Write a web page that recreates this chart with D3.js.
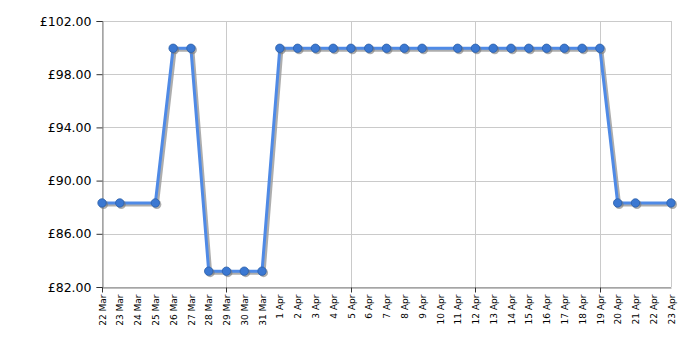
<!DOCTYPE html>
<html>
<head>
<meta charset="utf-8">
<script src="https://cdn.jsdelivr.net/npm/d3@7"></script>
<style>
  body { margin: 0; background: #fff; }
  text { font-family: "DejaVu Sans", Verdana, sans-serif; }
</style>
</head>
<body>
<div id="chart"></div>
<script>
// price history, one entry per recorded day
var dates = ["2024-03-22", "2024-03-23", "2024-03-25", "2024-03-26", "2024-03-27",
  "2024-03-28", "2024-03-29", "2024-03-30", "2024-03-31", "2024-04-01",
  "2024-04-02", "2024-04-03", "2024-04-04", "2024-04-05", "2024-04-06",
  "2024-04-07", "2024-04-08", "2024-04-09", "2024-04-11", "2024-04-12",
  "2024-04-13", "2024-04-14", "2024-04-15", "2024-04-16", "2024-04-17",
  "2024-04-18", "2024-04-19", "2024-04-20", "2024-04-21", "2024-04-23"];
var prices = [88.32, 88.32, 88.32, 99.95, 99.95,
  83.19, 83.19, 83.19, 83.19, 99.95,
  99.95, 99.95, 99.95, 99.95, 99.95,
  99.95, 99.95, 99.95, 99.95, 99.95,
  99.95, 99.95, 99.95, 99.95, 99.95,
  99.95, 99.95, 88.32, 88.32, 88.32];
var yTicks = [82, 86, 90, 94, 98, 102];
var xStart = "2024-03-22", xEnd = "2024-04-23";

var parse = d3.utcParse("%Y-%m-%d");
var points = dates.map((d, i) => ({date: parse(d), price: prices[i]}));

var width = 700, height = 350;
var margin = {top: 21, right: 29, bottom: 63, left: 102};

var svg = d3.select("#chart")
  .append("svg")
  .attr("width", width)
  .attr("height", height);

var xScale = d3.scaleUtc()
  .domain([parse(xStart), parse(xEnd)])
  .range([margin.left, width - margin.right]);
var yScale = d3.scaleLinear()
  .domain([d3.min(yTicks), d3.max(yTicks)])
  .range([height - margin.bottom, margin.top]);

var allDays = d3.utcDay.range(parse(xStart), d3.utcDay.offset(parse(xEnd), 1));
var weeks = allDays.filter((d, i) => i % 7 == 0);

/** grid lines */
svg.append("g")
  .selectAll("line")
  .data(yTicks)
  .enter()
  .append("line")
  .attr("x1", margin.left)
  .attr("x2", width - margin.right)
  .attr("y1", d => Math.round(yScale(d)) + 0.5)
  .attr("y2", d => Math.round(yScale(d)) + 0.5)
  .style("stroke", "#cacaca");
svg.append("g")
  .selectAll("line")
  .data(weeks.concat([parse(xEnd)]))
  .enter()
  .append("line")
  .attr("x1", d => Math.round(xScale(d)) + 0.5)
  .attr("x2", d => Math.round(xScale(d)) + 0.5)
  .attr("y1", margin.top)
  .attr("y2", height - margin.bottom)
  .style("stroke", "#cacaca");

/** y axis */
var yAxis = d3.axisLeft(yScale)
  .tickValues(yTicks)
  .tickFormat(d => "£" + d3.format(".2f")(d))
  .tickSize(6)
  .tickPadding(5);
var gy = svg.append("g")
  .attr("transform", "translate(" + (margin.left + 0.5) + ",0)")
  .call(yAxis);
gy.select(".domain").style("stroke", "#808080");
gy.selectAll(".tick line").style("stroke", "#333");
gy.selectAll("text")
  .style("font-size", "12.5px")
  .style("font-family", "'DejaVu Sans', Verdana, sans-serif")
  .style("fill", "#000");

/** x axis: one label per day, tick marks per week */
var xAxis = d3.axisBottom(xScale)
  .tickValues(allDays)
  .tickFormat(d3.utcFormat("%-d %b"))
  .tickSize(0)
  .tickPadding(0);
var gx = svg.append("g")
  .attr("transform", "translate(0," + (height - margin.bottom + 0.5) + ")")
  .call(xAxis);
gx.select(".domain").style("stroke", "#808080");
gx.selectAll("text")
  .attr("transform", "rotate(-90)")
  .attr("x", -7)
  .attr("y", 0)
  .attr("dy", "0.35em")
  .style("text-anchor", "end")
  .style("font-size", "9px")
  .style("font-family", "'DejaVu Sans', Verdana, sans-serif")
  .style("fill", "#000");
gx.selectAll("line.week")
  .data(weeks)
  .enter()
  .append("line")
  .attr("class", "week")
  .attr("x1", d => Math.round(xScale(d)) + 0.5)
  .attr("x2", d => Math.round(xScale(d)) + 0.5)
  .attr("y1", 0)
  .attr("y2", 5)
  .style("stroke", "#333");

/** price line with drop shadow */
var line = d3.line()
  .x(p => xScale(p.date))
  .y(p => yScale(p.price));

svg.append("path")
  .datum(points)
  .attr("d", line)
  .attr("transform", "translate(2,2)")
  .style("fill", "none")
  .style("stroke", "#999")
  .style("stroke-width", 3)
  .style("opacity", 0.8);
svg.append("path")
  .datum(points)
  .attr("d", line)
  .style("fill", "none")
  .style("stroke", "#4f8ae6")
  .style("stroke-width", 3);

svg.append("g")
  .selectAll("circle")
  .data(points)
  .enter()
  .append("circle")
  .attr("cx", p => xScale(p.date) + 1.5)
  .attr("cy", p => yScale(p.price) + 1.5)
  .attr("r", 4.5)
  .style("fill", "#777")
  .style("opacity", 0.6);
svg.append("g")
  .selectAll("circle")
  .data(points)
  .enter()
  .append("circle")
  .attr("cx", p => xScale(p.date))
  .attr("cy", p => yScale(p.price))
  .attr("r", 4.2)
  .style("fill", "#3b78d2")
  .style("stroke", "#2c5fa8")
  .style("stroke-width", 0.8);
</script>
</body>
</html>
